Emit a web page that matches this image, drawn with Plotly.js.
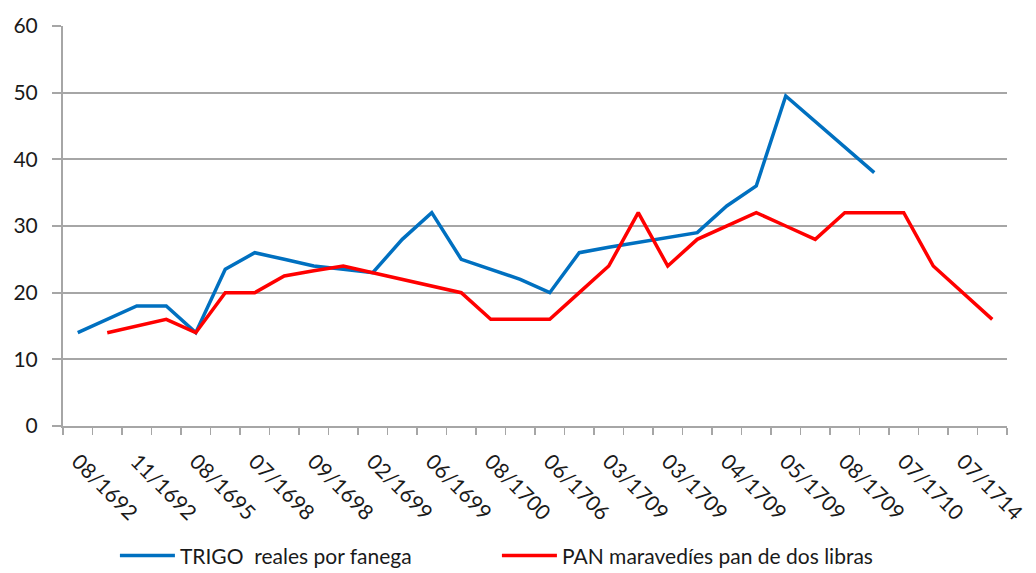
<!DOCTYPE html>
<html>
<head>
<meta charset="utf-8">
<script src="https://cdn.plot.ly/plotly-3.0.1.min.js"></script>
<style>html,body{margin:0;padding:0;background:#fff;}#chart{width:1036px;height:573px;}</style>
</head>
<body>
<div id="chart"></div>
<script>
// 32 category slots; labels shown on every second slot
const tickLabels = ["08/1692","11/1692","08/1695","07/1698","09/1698","02/1699","06/1699","08/1700",
                    "06/1706","03/1709","03/1709","04/1709","05/1709","08/1709","07/1710","07/1714"];
const trigo = [14,16,18,18,14,23.5,26,25,24,23.5,23,28,32,25,23.5,22,
               20,26,26.8,27.5,28.3,29,33,36,49.5,45.7,41.8,38,null,null,null,null];
const pan = [null,14,15,16,14,20,20,22.5,23.3,24,23,22,21,20,16,16,
             16,20,24,32,24,28,30,32,30,28,32,32,32,24,20,16];
const seriesNames = ["TRIGO\u00a0 reales por fanega","PAN maravedíes pan de dos libras"];

const xIdx = trigo.map((_, i) => i);
const tickPos = tickLabels.map((_, i) => i * 2);

const traces = [
  {x: xIdx, y: trigo, type: 'scatter', mode: 'lines', name: seriesNames[0],
   line: {color: '#0070C0', width: 3.5}, connectgaps: false},
  {x: xIdx, y: pan, type: 'scatter', mode: 'lines', name: seriesNames[1],
   line: {color: '#FF0000', width: 3.5}, connectgaps: false}
];

const layout = {
  width: 1036, height: 573,
  margin: {l: 63, r: 29, t: 26, b: 147, autoexpand: false},
  paper_bgcolor: '#fff', plot_bgcolor: '#fff',
  font: {family: 'Lato, "Open Sans", sans-serif', color: '#1a1a1a'},
  showlegend: true,
  legend: {orientation: 'h', x: 0.055, xref: 'paper', y: 0.03, yref: 'container',
           xanchor: 'left', yanchor: 'middle',
           font: {size: 21, color: '#1a1a1a'}, entrywidth: 312, itemwidth: 55},
  xaxis: {
    range: [-0.5, 31.5], tickmode: 'array', tickvals: tickPos, ticktext: tickLabels,
    tickangle: 45, ticks: '', showgrid: false, zeroline: false, automargin: false,
    showline: true, linecolor: '#a6a6a6', linewidth: 2, ticklabelstandoff: 13,
    tickfont: {size: 21, color: '#1a1a1a'},
    minor: {tick0: -0.5, dtick: 1, ticks: 'outside', ticklen: 7, tickcolor: '#a6a6a6', tickwidth: 1.5, showgrid: false},
    fixedrange: true
  },
  yaxis: {
    range: [0, 60], tickvals: [0,10,20,30,40,50,60], ticks: 'outside', ticklen: 9,
    tickcolor: '#a6a6a6', tickwidth: 2, showgrid: true, gridcolor: '#a6a6a6', gridwidth: 2,
    zeroline: false, showline: true, linecolor: '#a6a6a6', linewidth: 2, automargin: false,
    tickfont: {size: 21, color: '#1a1a1a'}, ticklabelstandoff: 10, fixedrange: true
  }
};

Plotly.newPlot('chart', traces, layout, {displayModeBar: false, staticPlot: true});
</script>
</body>
</html>
